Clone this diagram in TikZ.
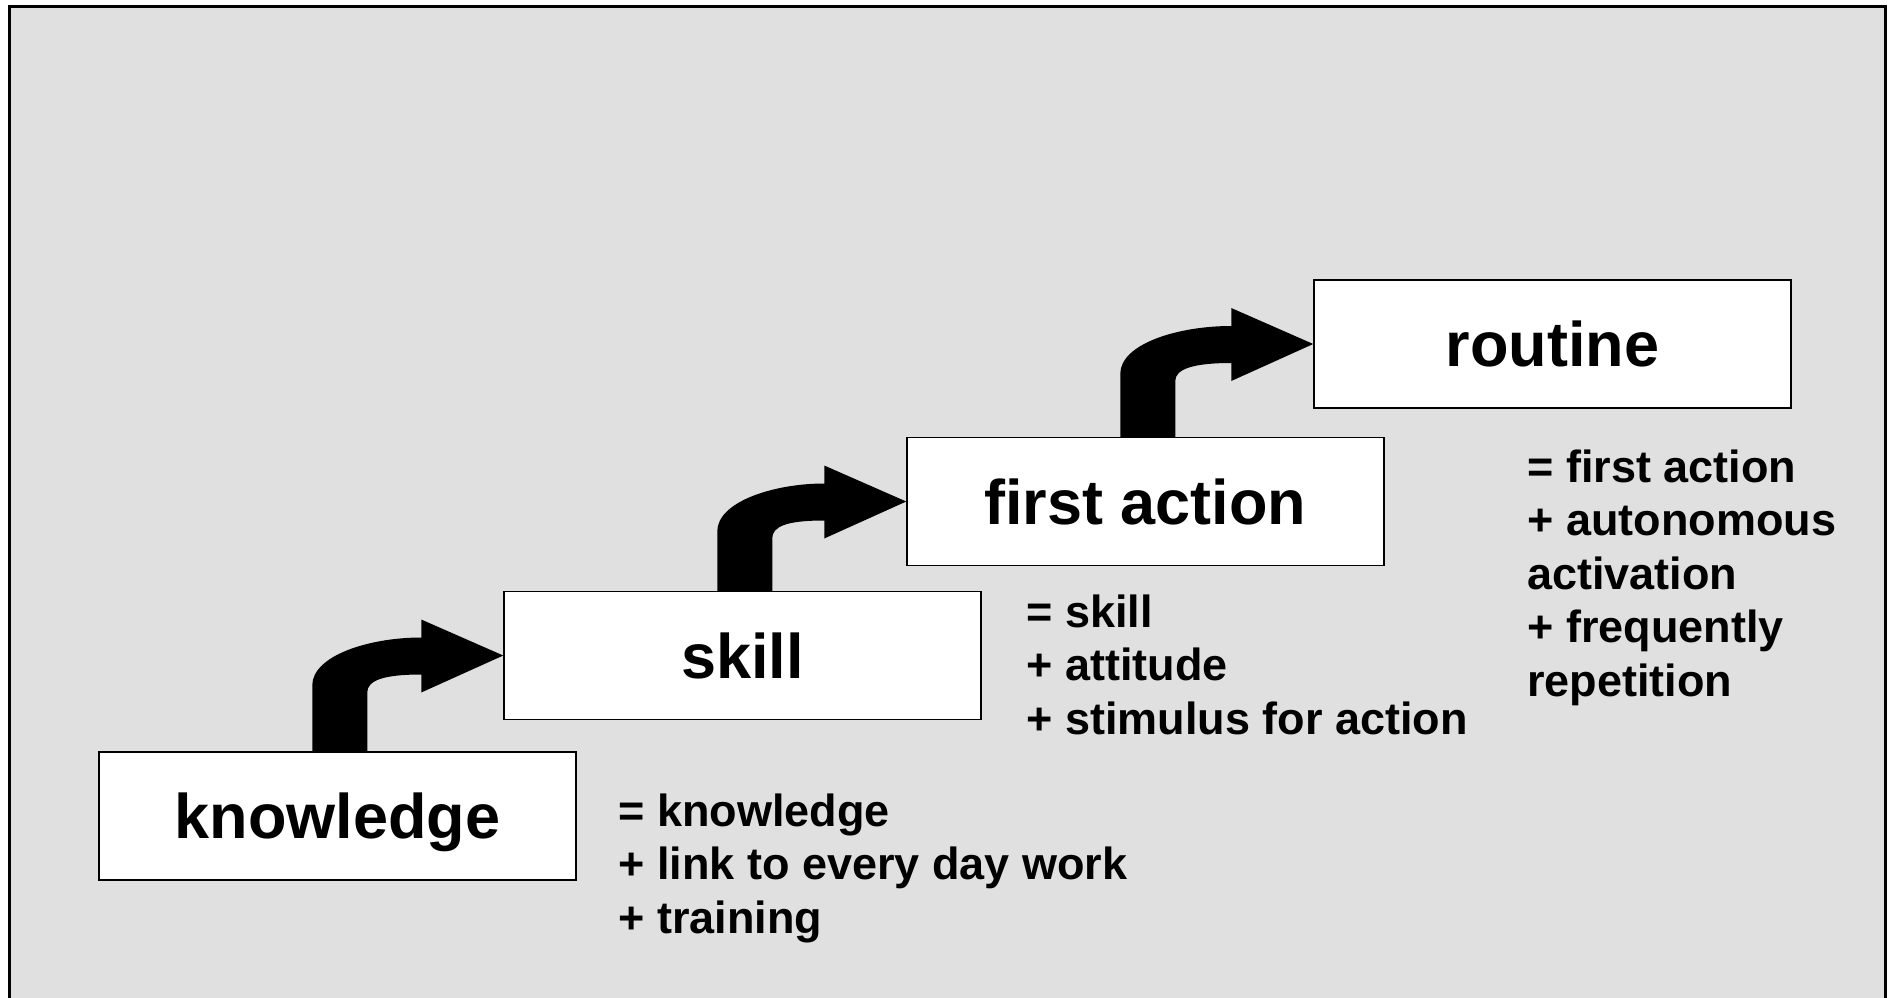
\documentclass[tikz,border=0pt]{standalone}
\usepackage{fontspec}
\setmainfont{Liberation Sans}
\usetikzlibrary{calc}
\definecolor{bggray}{HTML}{E0E0E0}
\newcommand{\stairarrow}[2]{%
  \fill[black] let \p1=(#2.west), \p2=(#1.north west) in
    (\x2+107pt,\y2) -- (\x2+107pt,\y1-15pt)
    .. controls (\x2+107pt,\y1) and (\x2+135.5pt,\y1+9pt) .. (\x1-41pt,\y1+9pt)
    -- (\x1-41pt,\y1+18pt) -- (\x1,\y1) -- (\x1-41pt,\y1-18.5pt) -- (\x1-41pt,\y1-9.5pt)
    .. controls (\x1-60pt,\y1-9.5pt) and (\x2+134.5pt,\y1-12.5pt) .. (\x2+134.5pt,\y1-18.5pt)
    -- (\x2+134.5pt,\y2) -- cycle;}
\begin{document}
\begin{tikzpicture}[x=0.5pt,y=-0.5pt,
  stepbox/.style={draw=black,line width=0.75pt,fill=white,minimum width=238.5pt,minimum height=64pt,inner sep=0pt,text height=22.5pt,text depth=0pt,font=\fontsize{31.5}{38}\selectfont\bfseries},
  note/.style={anchor=base west,align=left,inner sep=0pt,font=\fontsize{22.5}{26.7}\selectfont\bfseries}]
\useasboundingbox (0,0) rectangle (1892,997);
\clip (0,0) rectangle (1892,997);
\fill[white] (0,0) rectangle (1892,997);
\draw[fill=bggray,line width=1.5pt] (9.5,6.5) rectangle (1885,1010);
\node[stepbox] (knowledge) at (337.5,816) {knowledge};
\node[stepbox] (skill) at (742.5,655.5) {skill};
\node[stepbox] (action) at (1145.5,501.5) {first action};
\node[stepbox] (routine) at (1552.5,344) {routine};
\stairarrow{knowledge}{skill}
\stairarrow{skill}{action}
\stairarrow{action}{routine}
\node[note] (n1) at (618,933) {= knowledge\\+ link to every day work\\+ training};
\node[note] (n2) at (1026,734) {= skill\\+ attitude\\+ stimulus for action};
\node[note] (n3) at (1527,696) {= first action\\+ autonomous\\activation\\+ frequently\\repetition};
\end{tikzpicture}
\end{document}
